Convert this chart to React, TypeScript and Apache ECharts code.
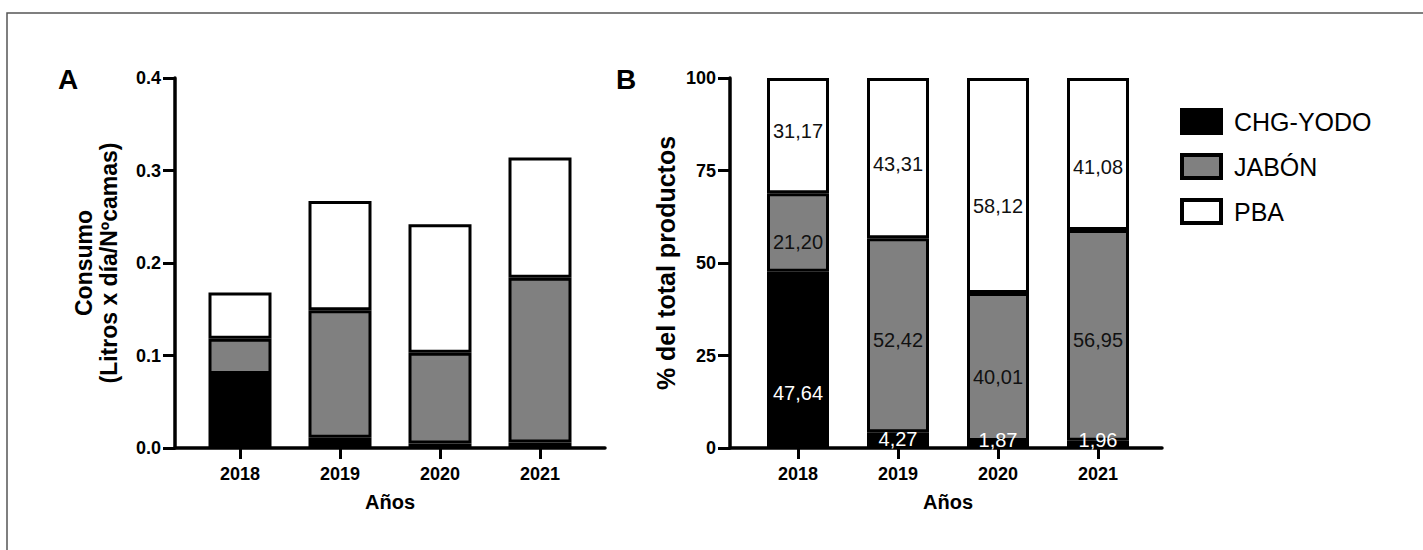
import React, { useEffect, useRef } from "react";
import * as echarts from "echarts";

// ---- data ----
const years = ["2018", "2019", "2020", "2021"];
const seriesNames = ["CHG-YODO", "JABÓN", "PBA"];
const consumoChg = [0.08, 0.011, 0.005, 0.006];
const consumoJabon = [0.038, 0.138, 0.098, 0.178];
const consumoPba = [0.05, 0.118, 0.139, 0.13];
const pctChg = [47.64, 4.27, 1.87, 1.96];
const pctJabon = [21.2, 52.42, 40.01, 56.95];
const pctPba = [31.17, 43.31, 58.12, 41.08];

// ---- styles ----
const FONT = "'Liberation Sans', Arial, Helvetica, sans-serif";
const fills = ["#000000", "#808080", "#ffffff"];
const labelColors = ["#ffffff", "#111111", "#111111"];
const labelOffsetsY = [
  [33, -1, -5, -4],
  [9, 5, 10, 5],
  [-5, 6, 20, 13],
];

const App: React.FC = () => {
  const ref = useRef<HTMLDivElement>(null);

  useEffect(() => {
    if (!ref.current) return;
    const chart = echarts.init(ref.current, undefined, { renderer: "svg" });

    const axisLineStyle = { color: "#000", width: 3.5 };

    // outer grids: 0 (A frame), 1 (B frame); inner grids: 2 (A bars), 3 (B bars)
    const frameX = (gridIndex: number) => ({
      type: "value" as const,
      gridIndex,
      min: 0,
      max: 1,
      axisLine: { show: true, onZero: false, lineStyle: axisLineStyle },
      axisTick: { show: false },
      axisLabel: { show: false },
      splitLine: { show: false },
    });

    const barX = (gridIndex: number) => ({
      type: "category" as const,
      gridIndex,
      data: years,
      boundaryGap: true,
      axisLine: { show: false },
      axisTick: {
        show: true,
        alignWithLabel: true,
        length: 11,
        lineStyle: { color: "#000", width: 3 },
      },
      axisLabel: {
        color: "#000",
        fontFamily: FONT,
        fontWeight: "bold",
        fontSize: 18,
        margin: 17,
      },
      name: "Años",
      nameLocation: "middle" as const,
      nameGap: 44,
      nameTextStyle: {
        color: "#000",
        fontFamily: FONT,
        fontWeight: "bold",
        fontSize: 20,
      },
    });

    const frameY = (
      gridIndex: number,
      max: number,
      interval: number,
      name: string,
      fmt: (v: number) => string,
      nameSize: number,
      nameGap: number
    ) => ({
      type: "value" as const,
      gridIndex,
      min: 0,
      max,
      interval,
      splitLine: { show: false },
      axisLine: { show: true, onZero: false, lineStyle: axisLineStyle },
      axisTick: {
        show: true,
        length: 12,
        lineStyle: { color: "#000", width: 3 },
      },
      axisLabel: {
        formatter: fmt,
        color: "#000",
        fontFamily: FONT,
        fontWeight: "bold",
        fontSize: 18,
        margin: 14,
      },
      name,
      nameLocation: "middle" as const,
      nameRotate: 90,
      nameGap,
      nameTextStyle: {
        color: "#000",
        fontFamily: FONT,
        fontWeight: "bold",
        fontSize: nameSize,
        lineHeight: 25,
      },
    });

    const barY = (gridIndex: number, max: number) => ({
      type: "value" as const,
      gridIndex,
      min: 0,
      max,
      show: false,
      splitLine: { show: false },
    });

    const consumo = [consumoChg, consumoJabon, consumoPba];
    const pct = [pctChg, pctJabon, pctPba];

    const barStyle = (i: number) => ({
      color: fills[i],
      borderColor: "#000",
      borderWidth: 3,
    });

    const seriesA = consumo.map((vals, i) => ({
      type: "bar" as const,
      name: seriesNames[i],
      xAxisIndex: 2,
      yAxisIndex: 2,
      stack: "A",
      barWidth: 63,
      itemStyle: barStyle(i),
      data: vals,
    }));

    const seriesB = pct.map((vals, i) => ({
      type: "bar" as const,
      name: seriesNames[i],
      xAxisIndex: 3,
      yAxisIndex: 3,
      stack: "B",
      barWidth: 62,
      itemStyle: barStyle(i),
      data: vals.map((v, j) => ({
        value: v,
        label: { offset: [0, labelOffsetsY[i][j]] },
      })),
      label: {
        show: true,
        position: "inside" as const,
        color: labelColors[i],
        fontFamily: FONT,
        fontSize: 20,
        formatter: (p: any) => Number(p.value).toFixed(2).replace(".", ","),
      },
    }));

    chart.setOption({
      animation: false,
      backgroundColor: "#ffffff",
      textStyle: { fontFamily: FONT },
      grid: [
        { left: 175, top: 78, width: 430, height: 370 },
        { left: 730, top: 78, width: 432, height: 370 },
        { left: 190, top: 78, width: 400, height: 370 },
        { left: 748, top: 78, width: 400, height: 370 },
      ],
      xAxis: [frameX(0), frameX(1), barX(2), barX(3)],
      yAxis: [
        frameY(0, 0.4, 0.1, "Consumo\n(Litros x día/Nºcamas)", (v) => v.toFixed(1), 23, 54),
        frameY(1, 100, 25, "% del total productos", (v) => String(v), 25, 52),
        barY(2, 0.4),
        barY(3, 100),
      ],
      legend: {
        orient: "vertical",
        left: 1175,
        top: 103,
        itemWidth: 39,
        itemHeight: 23,
        itemGap: 18,
        icon: "rect",
        data: seriesNames,
        itemStyle: { borderColor: "#000", borderWidth: 4 },
        textStyle: {
          color: "#000",
          fontFamily: FONT,
          fontSize: 25,
          padding: [0, 0, 0, 8],
        },
      },
      graphic: [
        {
          type: "rect",
          silent: true,
          shape: { x: 7, y: 13, width: 1500, height: 600 },
          style: { fill: "none", stroke: "#555", lineWidth: 1.5 },
        },
        {
          type: "text",
          left: 58,
          top: 65,
          style: { text: "A", fill: "#000", font: `bold 28px ${FONT}` },
        },
        {
          type: "text",
          left: 616,
          top: 65,
          style: { text: "B", fill: "#000", font: `bold 28px ${FONT}` },
        },
      ],
      series: [...seriesA, ...seriesB],
    });

    return () => chart.dispose();
  }, []);

  return (
    <div
      ref={ref}
      style={{
        position: "fixed",
        left: 0,
        top: 0,
        width: 1423,
        height: 550,
        background: "#fff",
      }}
    />
  );
};

export default App;
